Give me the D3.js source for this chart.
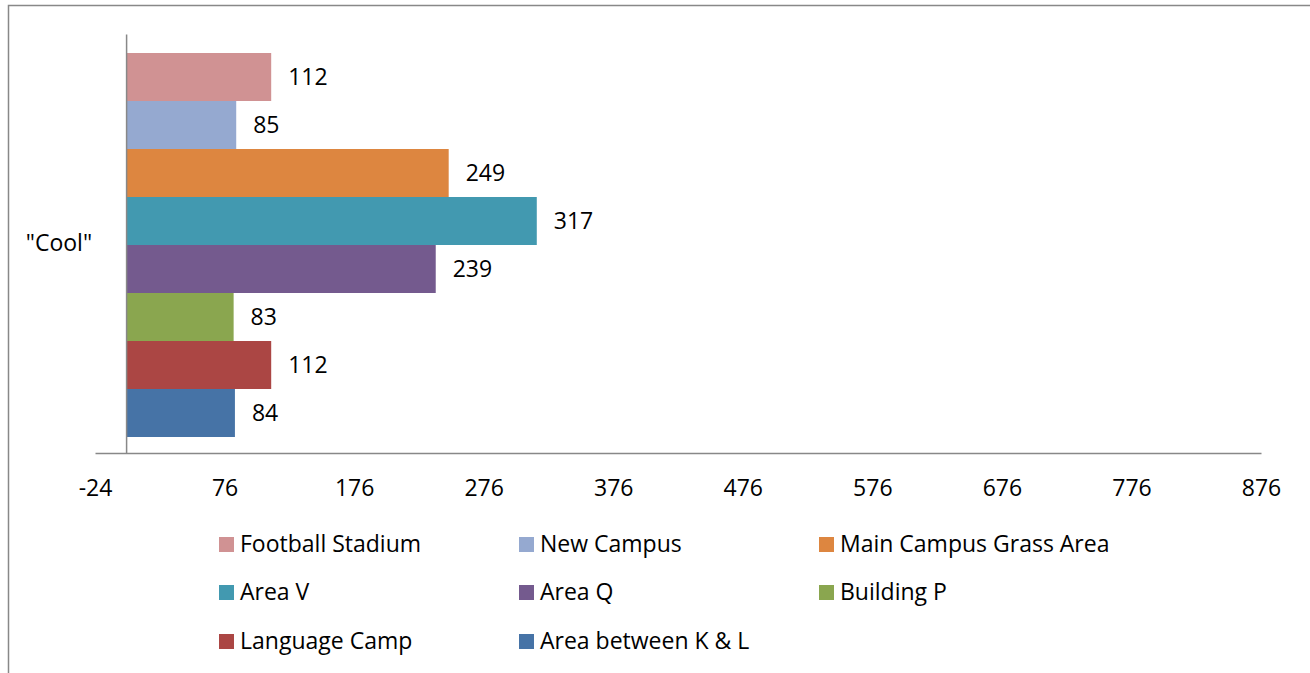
<!DOCTYPE html>
<html>
<head>
<meta charset="utf-8">
<script src="https://cdn.jsdelivr.net/npm/d3@7"></script>
<style>
body { margin: 0; background: #fff; }
text { font-family: "Open Sans", sans-serif; fill: #000; }
</style>
</head>
<body>
<div id="chart"></div>
<script>
var categories = ['"Cool"'];
var series = ["Football Stadium", "New Campus", "Main Campus Grass Area", "Area V",
              "Area Q", "Building P", "Language Camp", "Area between K & L"];
var values = [112, 85, 249, 317, 239, 83, 112, 84];
var colors = ["#d09293", "#95a9d0", "#dd8640", "#4299b0", "#745a8e", "#8aa64f", "#ab4644", "#4673a6"];
var xTicks = [-24, 76, 176, 276, 376, 476, 576, 676, 776, 876];

function main() {
    var W = 1310, H = 673;
    var fs = 23;
    var svg = d3.select("#chart").append("svg")
        .attr("width", W).attr("height", H);

    // outer frame (only left and top are in view)
    svg.append("path")
        .attr("d", "M8.5," + H + "V5.5H" + W)
        .attr("fill", "none").attr("stroke", "#888").attr("stroke-width", 1.5);

    var x = d3.scaleLinear().domain([-24, 876]).range([95, 1261]);
    var y = d3.scaleBand().domain(categories).range([34, 453]);
    var yi = d3.scaleBand().domain(series)
        .range([y(categories[0]) + 19, y(categories[0]) + y.bandwidth() - 16]);

    var g = svg.append("g");
    g.selectAll("rect")
        .data(values)
        .enter()
        .append("rect")
        .attr("x", x(0))
        .attr("y", function(d, i) { return yi(series[i]); })
        .attr("width", function(d) { return x(d) - x(0); })
        .attr("height", yi.bandwidth())
        .attr("fill", function(d, i) { return colors[i]; });

    g.selectAll("text")
        .data(values)
        .enter()
        .append("text")
        .attr("x", function(d) { return x(d) + 17; })
        .attr("y", function(d, i) { return yi(series[i]) + yi.bandwidth() / 2; })
        .attr("dy", "0.36em")
        .attr("font-size", fs)
        .text(function(d) { return d; });

    // axes
    var xAxis = d3.axisBottom(x).tickValues(xTicks).tickSize(0).tickPadding(27)
        .tickFormat(function(d) { return String(d); });
    var ax = svg.append("g").attr("transform", "translate(0,453)").call(xAxis);
    ax.select(".domain").attr("stroke", "#888").attr("stroke-width", 1.5);
    ax.selectAll("text").attr("font-size", fs).attr("font-family", null);

    var yAxis = d3.axisLeft(y).tickSize(0).tickPadding(34);
    var ay = svg.append("g").attr("transform", "translate(" + x(0) + ",0)").call(yAxis);
    ay.select(".domain").attr("stroke", "#888").attr("stroke-width", 1.5);
    ay.selectAll("text").attr("font-size", fs).attr("font-family", null);

    // legend
    var colX = [219, 519, 819], rowY = [537, 585, 634];
    var lg = svg.append("g").selectAll("g")
        .data(series)
        .enter()
        .append("g")
        .attr("transform", function(d, i) {
            return "translate(" + colX[i % 3] + "," + rowY[Math.floor(i / 3)] + ")";
        });
    lg.append("rect").attr("width", 15).attr("height", 15)
        .attr("fill", function(d, i) { return colors[i]; });
    lg.append("text").attr("x", 21).attr("y", 15).attr("font-size", fs)
        .text(function(d) { return d; });
}

main();
</script>
</body>
</html>
